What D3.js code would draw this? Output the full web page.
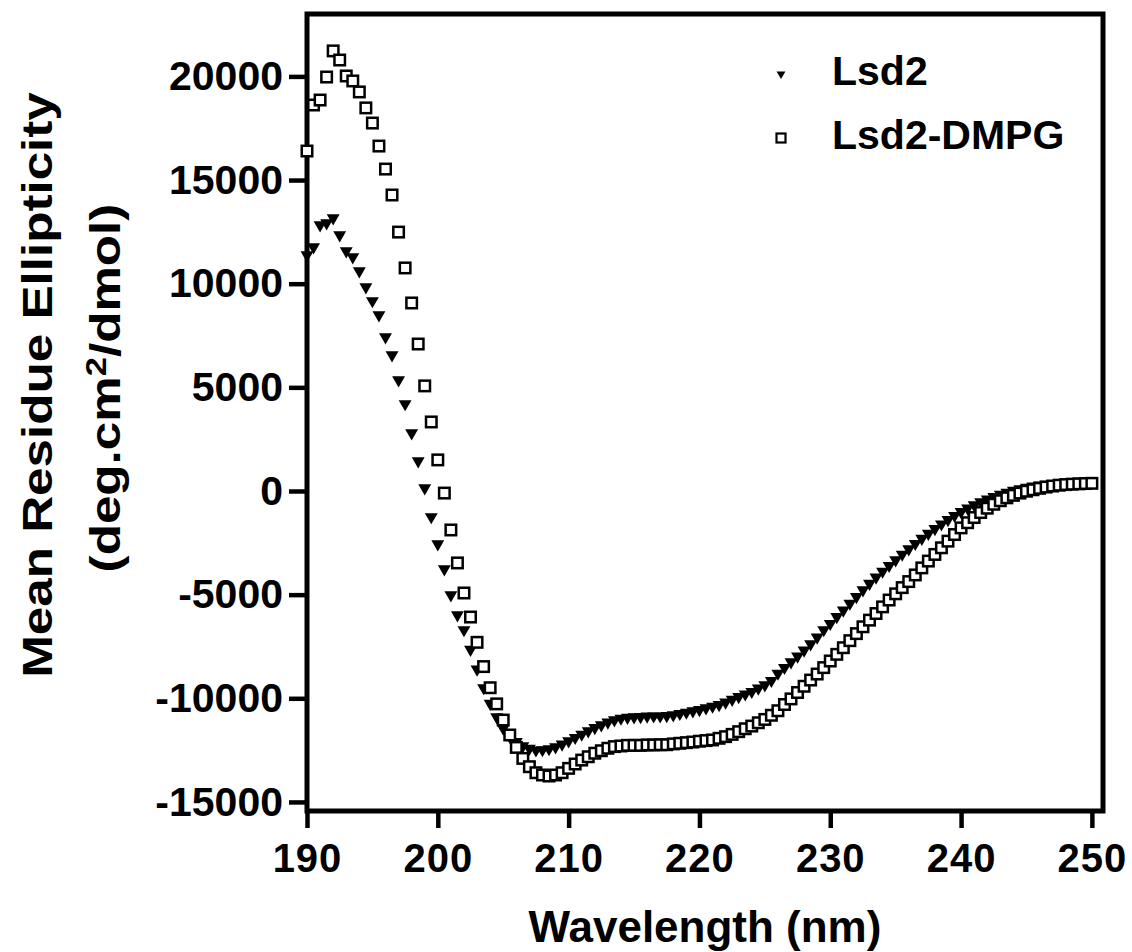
<!DOCTYPE html>
<html>
<head>
<meta charset="utf-8">
<script src="https://cdn.jsdelivr.net/npm/d3@7"></script>
<style>
  body { margin: 0; background: #fff; }
  svg text { font-family: "Liberation Sans", Arial, sans-serif; font-weight: bold; fill: #000; }
</style>
</head>
<body>
<svg width="1132" height="952"></svg>
<script>
// wavelengths, 190 to 250 nm every 0.5 nm
const wavelengths = d3.range(0, 121).map(i => 190 + i * 0.5);

// Lsd2 (filled triangles)
const lsd2 = [
  11385, 11770, 12830, 12930, 13170, 12350, 11580, 11290, 10610, 9840,
  9170, 8490, 7430, 6560, 5350, 4200, 2800, 1450, 145, -1250,
  -2560, -3760, -5020, -5980, -6700, -7650, -8600, -9500, -10250, -10900,
  -11450, -11850, -12100, -12300, -12420, -12500, -12490, -12440, -12350, -12220,
  -12060, -11900, -11740, -11580, -11420, -11290, -11160, -11050, -10970, -10930,
  -10900, -10890, -10870, -10860, -10860, -10840, -10810, -10740, -10680, -10610,
  -10550, -10470, -10390, -10310, -10190, -10060, -9930, -9800, -9680, -9520,
  -9360, -9150, -8800, -8520, -8250, -7970, -7680, -7380, -7060, -6700,
  -6400, -6070, -5750, -5420, -5100, -4780, -4460, -4160, -3880, -3600,
  -3330, -3060, -2800, -2540, -2290, -2050, -1820, -1600, -1390, -1190,
  -1000, -830, -670, -530, -400, -280, -170, -70, 20, 100,
  170, 230, 280, 320, 350, 380, 400, 420, 430, 440,
  450
];

// Lsd2-DMPG (open squares)
const lsd2Dmpg = [
  16400, 18620, 18860, 19970, 21230, 20790, 20020, 19780, 19250, 18480,
  17750, 16640, 15530, 14280, 12490, 10760, 9070, 7090, 5070, 3330,
  1500, -100, -1880, -3470, -4920, -6080, -7300, -8470, -9490, -10270,
  -11050, -11770, -12370, -12900, -13300, -13590, -13700, -13750, -13700, -13590,
  -13380, -13170, -12980, -12820, -12650, -12530, -12410, -12330, -12300, -12270,
  -12270, -12270, -12250, -12250, -12240, -12240, -12200, -12170, -12140, -12110,
  -12070, -12040, -12010, -11930, -11850, -11740, -11610, -11470, -11340, -11180,
  -11020, -10820, -10600, -10300, -10030, -9720, -9420, -9120, -8830, -8520,
  -8200, -7880, -7560, -7220, -6880, -6550, -6230, -5910, -5590, -5260,
  -4960, -4660, -4370, -4050, -3710, -3380, -3060, -2740, -2420, -2100,
  -1780, -1530, -1280, -1040, -830, -640, -470, -330, -210, -100,
  -10, 60, 130, 190, 240, 280, 310, 330, 345, 360,
  370
];

const xTicks = [190, 200, 210, 220, 230, 240, 250];
const yTicks = [-15000, -10000, -5000, 0, 5000, 10000, 15000, 20000];
const seriesNames = ["Lsd2", "Lsd2-DMPG"];

const svg = d3.select("svg");

const x = d3.scaleLinear().domain([190, 250.85]).range([307, 1103]);
const y = d3.scaleLinear().domain([-15437, 23010]).range([811, 14]);

// axes
const yAxis = svg.append("g")
    .attr("transform", `translate(${x.range()[0]},0)`)
    .call(d3.axisLeft(y).tickValues(yTicks).tickFormat(d => String(d))
        .tickSize(18).tickSizeOuter(0).tickPadding(6));

const xAxis = svg.append("g")
    .attr("transform", `translate(0,${y.range()[0]})`)
    .call(d3.axisBottom(x).tickValues(xTicks).tickFormat(d => String(d))
        .tickSize(17).tickSizeOuter(0).tickPadding(16));

[yAxis, xAxis].forEach(g => {
  g.select(".domain").remove();
  g.selectAll(".tick line").attr("stroke", "#000").attr("stroke-width", 4.5);
});
yAxis.selectAll(".tick text").style("font-size", "41px");
xAxis.selectAll(".tick text").style("font-size", "40px").style("letter-spacing", "1px");

// frame
svg.append("rect")
    .attr("x", x.range()[0]).attr("y", y.range()[1])
    .attr("width", x.range()[1] - x.range()[0])
    .attr("height", y.range()[0] - y.range()[1])
    .attr("fill", "none").attr("stroke", "#000").attr("stroke-width", 5);

// data
const tri = d3.symbol().type(d3.symbolTriangle).size(72);

svg.append("g")
  .selectAll("path")
  .data(wavelengths.map((w, i) => [w, lsd2[i]]))
  .join("path")
    .attr("d", tri)
    .attr("transform", d => `translate(${x(d[0])},${y(d[1])}) rotate(180)`)
    .attr("fill", "#000");

svg.append("g")
  .selectAll("rect")
  .data(wavelengths.map((w, i) => [w, lsd2Dmpg[i]]))
  .join("rect")
    .attr("x", d => x(d[0]) - 5.25)
    .attr("y", d => y(d[1]) - 5.25)
    .attr("width", 10.5).attr("height", 10.5)
    .attr("fill", "#fff").attr("stroke", "#000").attr("stroke-width", 2.5);

// legend
const legend = svg.append("g");
legend.append("path")
    .attr("d", d3.symbol().type(d3.symbolTriangle).size(34))
    .attr("transform", "translate(781,74) rotate(180)")
    .attr("fill", "#000");
legend.append("rect")
    .attr("x", 776.5).attr("y", 133.5).attr("width", 9).attr("height", 9)
    .attr("fill", "#fff").attr("stroke", "#000").attr("stroke-width", 2.2);
legend.selectAll("text")
  .data(seriesNames)
  .join("text")
    .attr("x", 832)
    .attr("y", (d, i) => 85 + i * 64)
    .style("font-size", "41px")
    .text(d => d);

// axis titles
svg.append("text")
    .attr("x", (x.range()[0] + x.range()[1]) / 2)
    .attr("y", 942)
    .attr("text-anchor", "middle")
    .style("font-size", "44px")
    .text("Wavelength (nm)");

svg.append("text")
    .attr("transform", "translate(52,385) rotate(-90) scale(1.19,1)")
    .attr("text-anchor", "middle")
    .style("font-size", "43px")
    .text("Mean Residue Ellipticity");

const t2 = svg.append("text")
    .attr("transform", "translate(120,388) rotate(-90) scale(1.19,1)")
    .attr("text-anchor", "middle")
    .style("font-size", "43px");
t2.append("tspan").text("(deg.cm");
t2.append("tspan").attr("dy", "-0.5em").style("font-size", "29px").text("2");
t2.append("tspan").attr("dy", "0.34em").text("/dmol)");
</script>
</body>
</html>
